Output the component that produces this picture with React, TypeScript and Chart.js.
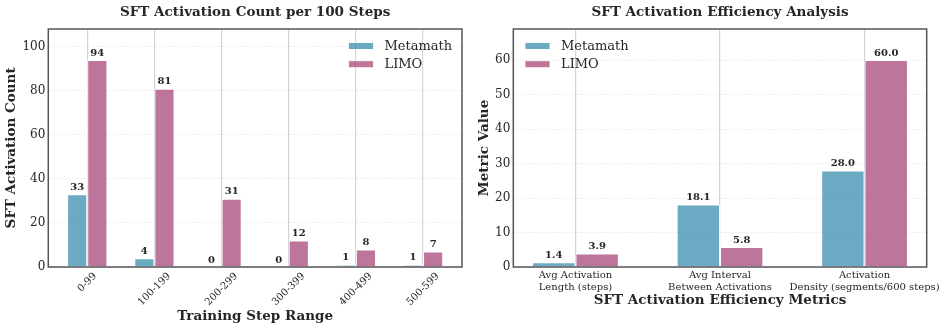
import React, { useEffect, useRef } from 'react';
import { Chart, registerables } from 'chart.js';

Chart.register(...registerables);

// ---------- data ----------
const stepRanges = ['0-99', '100-199', '200-299', '300-399', '400-499', '500-599'];
const metamathCounts = [33, 4, 0, 0, 1, 1];
const limoCounts = [94, 81, 31, 12, 8, 7];

const metricNames = [
  ['Avg Activation', 'Length (steps)'],
  ['Avg Interval', 'Between Activations'],
  ['Activation', 'Density (segments/600 steps)'],
];
const metamathMetrics = [1.4, 18.1, 28.0];
const limoMetrics = [3.9, 5.8, 60.0];

const seriesNames = ['Metamath', 'LIMO'];
const countStep = 20;
const metricStep = 10;

// ---------- styles ----------
const FONT = "'DejaVu Serif', serif";
const TEXT = '#262626';
const BLUE = 'rgba(46,134,171,0.7)';
const PINK = 'rgba(162,59,114,0.7)';
const EDGE = 'rgba(255,255,255,0.85)';
const TITLE_SIZE = 13.5;

Chart.defaults.font.family = FONT;
Chart.defaults.color = TEXT;

type DecorCfg = {
  title: string;
  decimals: number;
  legendX: (a: any) => number;
  rotated?: string[];
};

function makeDecor(cfg: DecorCfg) {
  return {
    id: 'decor',
    afterDatasetsDraw(chart: any) {
      const ctx = chart.ctx;
      ctx.save();
      ctx.font = `bold 10px ${FONT}`;
      ctx.fillStyle = TEXT;
      ctx.textAlign = 'center';
      ctx.textBaseline = 'alphabetic';
      chart.data.datasets.forEach((ds: any, di: number) => {
        const meta = chart.getDatasetMeta(di);
        meta.data.forEach((el: any, i: number) => {
          const v = ds.data[i].y;
          ctx.fillText(v.toFixed(cfg.decimals), el.x, el.y - 4.3);
        });
      });
      ctx.restore();
    },
    afterDraw(chart: any) {
      const { ctx, chartArea: a } = chart;
      ctx.save();
      // frame
      ctx.strokeStyle = '#555';
      ctx.lineWidth = 1.5;
      ctx.strokeRect(a.left, a.top, a.right - a.left, a.bottom - a.top);
      // title
      ctx.font = `bold ${TITLE_SIZE}px ${FONT}`;
      ctx.fillStyle = TEXT;
      ctx.textAlign = 'center';
      ctx.textBaseline = 'middle';
      ctx.fillText(cfg.title, (a.left + a.right) / 2, 12);
      // legend
      const lx = cfg.legendX(a);
      ctx.font = `13px ${FONT}`;
      ctx.textAlign = 'left';
      ctx.textBaseline = 'alphabetic';
      chart.data.datasets.forEach((ds: any, di: number) => {
        const cy = a.top + 17 + di * 18.2;
        ctx.fillStyle = ds.backgroundColor;
        ctx.fillRect(lx, cy - 3.5, 25, 7);
        ctx.strokeStyle = EDGE;
        ctx.lineWidth = 1;
        ctx.strokeRect(lx, cy - 3.5, 25, 7);
        ctx.fillStyle = TEXT;
        ctx.fillText(ds.label, lx + 36, cy + 3.8);
      });
      // rotated x tick labels
      if (cfg.rotated) {
        const xs = chart.scales.x;
        ctx.font = `10px ${FONT}`;
        ctx.textAlign = 'center';
        ctx.textBaseline = 'middle';
        const H = 11.7;
        cfg.rotated.forEach((lab, i) => {
          const x = xs.getPixelForValue(i);
          const w = ctx.measureText(lab).width;
          const cy = a.bottom + 3.5 + (w + H) / (2 * Math.SQRT2);
          ctx.save();
          ctx.translate(x, cy);
          ctx.rotate(-Math.PI / 4);
          ctx.fillText(lab, 0, 0);
          ctx.restore();
        });
      }
      ctx.restore();
    },
  };
}

const toPoints = (vals: number[]) => vals.map((v, i) => ({ x: i, y: v }));

function buildConfig(opts: {
  a: number[];
  b: number[];
  xmin: number;
  xmax: number;
  ymax: number;
  ystep: number;
  xTitle: string;
  yTitle: string;
  yAxisWidth: number;
  rightPad: number;
  yTitlePad: number;
  xTitlePad: number;
  tickLabels?: any[];
  decor: any;
}) {
  return {
    type: 'bar',
    data: {
      datasets: [
        {
          label: seriesNames[0],
          data: toPoints(opts.a),
          backgroundColor: BLUE,
          borderColor: EDGE,
          borderWidth: 1,
          borderSkipped: 'bottom',
          categoryPercentage: 0.6,
          barPercentage: 1,
        },
        {
          label: seriesNames[1],
          data: toPoints(opts.b),
          backgroundColor: PINK,
          borderColor: EDGE,
          borderWidth: 1,
          borderSkipped: 'bottom',
          categoryPercentage: 0.6,
          barPercentage: 1,
        },
      ],
    },
    options: {
      responsive: false,
      animation: false,
      devicePixelRatio: 1,
      layout: { padding: { top: 29, left: 0, right: opts.rightPad, bottom: 0 } },
      plugins: { legend: { display: false }, title: { display: false }, tooltip: { enabled: false } },
      scales: {
        x: {
          type: 'linear',
          offset: false,
          min: opts.xmin,
          max: opts.xmax,
          grid: { color: 'rgba(0,0,0,0.17)', lineWidth: 1.2, drawTicks: false, offset: false },
          border: { display: false },
          ticks: opts.tickLabels
            ? {
                display: true,
                stepSize: 1,
                includeBounds: false,
                autoSkip: false,
                maxRotation: 0,
                minRotation: 0,
                padding: 3,
                font: { size: 10, lineHeight: 1.15 },
                color: TEXT,
                callback: (v: number) => (opts.tickLabels as any[])[v] ?? '',
              }
            : { display: false, stepSize: 1, includeBounds: false, autoSkip: false },
          title: {
            display: true,
            text: opts.xTitle,
            color: TEXT,
            font: { size: TITLE_SIZE, weight: 'bold' },
            padding: { top: 0, bottom: opts.xTitlePad },
          },
          afterFit: (s: any) => {
            s.height = 63;
          },
        },
        y: {
          min: 0,
          max: opts.ymax,
          grid: { color: 'rgba(0,0,0,0.06)', lineWidth: 1, drawTicks: false },
          border: { display: false, dash: [2, 1] },
          ticks: {
            stepSize: opts.ystep,
            includeBounds: false,
            padding: 3,
            font: { size: 12 },
            color: TEXT,
          },
          title: {
            display: true,
            text: opts.yTitle,
            color: TEXT,
            font: { size: TITLE_SIZE, weight: 'bold' },
            padding: { top: opts.yTitlePad, bottom: 0 },
          },
          afterFit: (s: any) => {
            s.width = opts.yAxisWidth;
          },
        },
      },
    },
    plugins: [opts.decor],
  } as any;
}

function ChartCanvas({ width, config }: { width: number; config: () => any }) {
  const ref = useRef<HTMLCanvasElement | null>(null);
  useEffect(() => {
    if (!ref.current) return;
    const chart = new Chart(ref.current, config());
    return () => chart.destroy();
  }, []);
  return <canvas ref={ref} width={width} height={330} style={{ display: 'block', width, height: 330 }} />;
}

export default function App() {
  const leftConfig = () =>
    buildConfig({
      a: metamathCounts,
      b: limoCounts,
      xmin: -0.58,
      xmax: stepRanges.length - 1 + 0.58,
      ymax: Math.max(...limoCounts) * 1.15,
      ystep: countStep,
      xTitle: 'Training Step Range',
      yTitle: 'SFT Activation Count',
      yAxisWidth: 48.3,
      rightPad: 8,
      yTitlePad: 3.6,
      xTitlePad: 5.2,
      decor: makeDecor({
        title: 'SFT Activation Count per 100 Steps',
        decimals: 0,
        legendX: (a: any) => a.right - 113.5,
        rotated: stepRanges,
      }),
    });
  const rightConfig = () =>
    buildConfig({
      a: metamathMetrics,
      b: limoMetrics,
      xmin: -0.43,
      xmax: metricNames.length - 1 + 0.43,
      ymax: Math.max(...limoMetrics) * 1.15,
      ystep: metricStep,
      xTitle: 'SFT Activation Efficiency Metrics',
      yTitle: 'Metric Value',
      yAxisWidth: 43.3,
      rightPad: 20.3,
      yTitlePad: 5.9,
      xTitlePad: 21.9,
      tickLabels: metricNames,
      decor: makeDecor({
        title: 'SFT Activation Efficiency Analysis',
        decimals: 1,
        legendX: (a: any) => a.left + 11.7,
      }),
    });
  return (
    <div style={{ position: 'absolute', left: 0, top: 0, width: 947, height: 330, display: 'flex', background: '#fff' }}>
      <ChartCanvas width={470} config={leftConfig} />
      <ChartCanvas width={477} config={rightConfig} />
    </div>
  );
}
